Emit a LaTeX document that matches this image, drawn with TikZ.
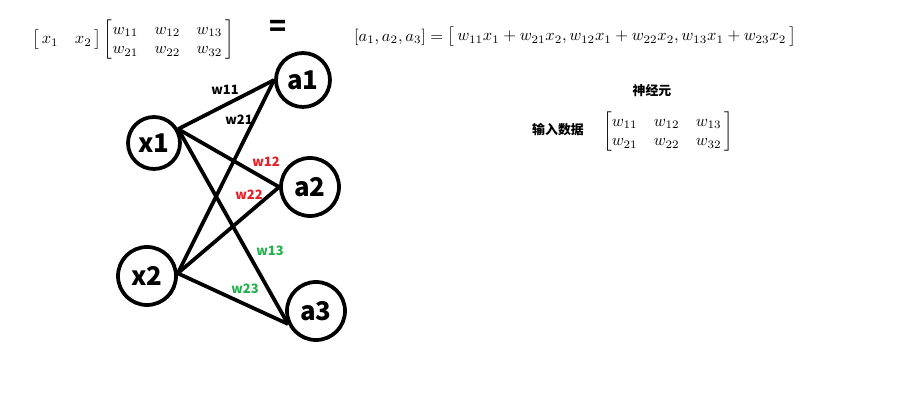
\documentclass[tikz,border=0pt]{standalone}
\usepackage{amsmath}
\usepackage{fontspec}
\newfontfamily\cjk{Noto Sans CJK SC}
\definecolor{wred}{RGB}{237,28,36}
\definecolor{wgreen}{RGB}{34,177,76}

\begin{document}
\begin{tikzpicture}[every node/.style={font=\cjk\bfseries\fontsize{11}{13}\selectfont}, nrn/.style={draw, circle, line width=3.2pt, inner sep=0pt, minimum size=1.7cm, font=\cjk\bfseries\fontsize{22}{26}\selectfont}, lnk/.style={line width=3.2pt}, mth/.style={font=\normalsize, scale=1.4}]
	\useasboundingbox (0,0) rectangle (27.09,12.48);
	\node[nrn, minimum size=1.56cm] (x1) at (4.62,8.19) {x1};
	\node[nrn, minimum size=1.74cm] (x2) at (4.41,4.20) {x2};
	\node[nrn, minimum size=1.62cm] (a1) at (9.09,10.08) {a1};
	\node[nrn, minimum size=1.74cm] (a2) at (9.30,6.87) {a2};
	\node[nrn, minimum size=1.74cm] (a3) at (9.48,3.15) {a3};
	\draw[lnk] (x1.30) -- (a1.west); \draw[lnk] (x1.30) -- (a2.west); \draw[lnk] (x1.30) -- (a3.205);
	\draw[lnk] (x2.5) -- (a1.west); \draw[lnk] (x2.5) -- (a2.west); \draw[lnk] (x2.5) -- (a3.205);
	\node (w11) at (6.75,9.78) {w11};
	\node (w21) at (7.17,8.88) {w21};
	\node[text=wred] (w12) at (7.98,7.62) {w12};
	\node[text=wred] (w22) at (7.47,6.63) {w22};
	\node[text=wgreen] (w13) at (8.10,4.95) {w13};
	\node[text=wgreen] (w23) at (7.35,3.81) {w23};
	\node[mth] (xw) at (3.99,11.28) {$\begin{bmatrix}\,x_1 & x_2\,\end{bmatrix}\begin{bmatrix} w_{11} & w_{12} & w_{13}\,\\ w_{21} & w_{22} & w_{32}\, \end{bmatrix}$};
	\node[font=\cjk\bfseries\fontsize{24}{28}\selectfont] (eq) at (8.34,11.64) {=};
	\node[mth] (res) at (17.25,11.37) {$[a_1,a_2,a_3]=\begin{bmatrix}\,w_{11}x_1+w_{21}x_2, w_{12}x_1+w_{22}x_2, w_{13}x_1+w_{23}x_2\, \end{bmatrix}$};
	\node (nrnlbl) at (19.56,9.75) {神经元};
	\node (inlbl) at (16.74,8.58) {输入数据};
	\node[mth] (wmat) at (20.04,8.52) {$\begin{bmatrix} w_{11} & w_{12} & w_{13}\,\\ w_{21} & w_{22} & w_{32}\, \end{bmatrix}$};
\end{tikzpicture}
\end{document}
